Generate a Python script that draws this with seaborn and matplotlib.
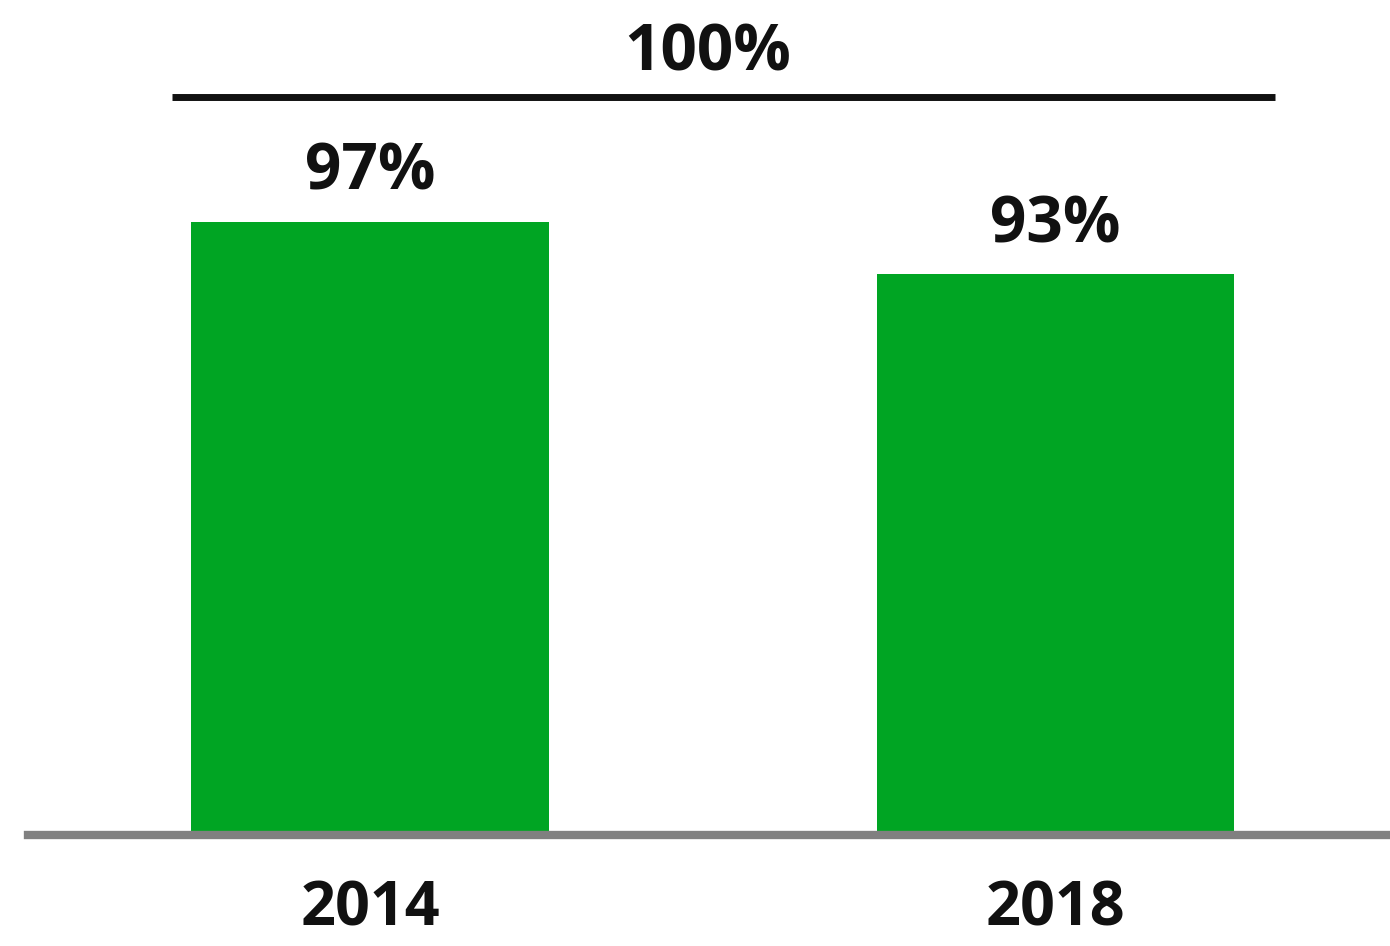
import matplotlib
matplotlib.use("Agg")
import matplotlib.pyplot as plt
import seaborn as sns
import pandas as pd

# Share values by year
years = ["2014", "2018"]
shares = [97, 93]
total_label = "100%"

df = pd.DataFrame({"year": years, "share": shares})

sns.set_theme(style="white")
plt.rcParams["font.family"] = ["Open Sans", "DejaVu Sans"]
plt.rcParams["font.weight"] = "bold"

W, H = 1390, 946
fig = plt.figure(figsize=(W / 100, H / 100), dpi=100)
fig.patch.set_facecolor("white")
ax = fig.add_axes([28 / W, 111 / H, (W - 28) / W, 835 / H])
ax.set_facecolor("none")

sns.barplot(data=df, x="year", y="share", color="#00A523", saturation=1,
            width=0.522, ax=ax, zorder=2)
for p in ax.patches:
    p.set_edgecolor("none")

ax.set_xlim(-0.499, 1.488)
ax.set_ylim(50, 114.0)

# value labels above bars
for i, v in enumerate(shares):
    ax.annotate(f"{v}%", xy=(i, v), xytext=(0, 23), textcoords="offset points",
                ha="center", va="baseline", fontsize=46, fontweight="bold",
                color="#111111")

# total bracket line with its label
ax.plot([(172 - 28) / (W - 28), (1275 - 28) / (W - 28)], [0.8838, 0.8838],
        transform=ax.transAxes, color="#111111", lw=5, solid_capstyle="butt",
        clip_on=False)
ax.text((708 - 28) / (W - 28), 0.916, total_label, transform=ax.transAxes,
        ha="center", va="baseline", fontsize=46, fontweight="bold",
        color="#111111")

# axes styling: gray baseline only
for s in ["top", "right", "left"]:
    ax.spines[s].set_visible(False)
ax.spines["bottom"].set_color("#808080")
ax.spines["bottom"].set_linewidth(6)
ax.spines["bottom"].set_zorder(3)
ax.set_yticks([])
ax.set_xlabel("")
ax.set_ylabel("")
ax.tick_params(axis="x", length=0, pad=32, labelsize=44, labelcolor="#111111")
for lab in ax.get_xticklabels():
    lab.set_fontweight("bold")

fig.savefig("out.png", dpi=100, facecolor="white")
